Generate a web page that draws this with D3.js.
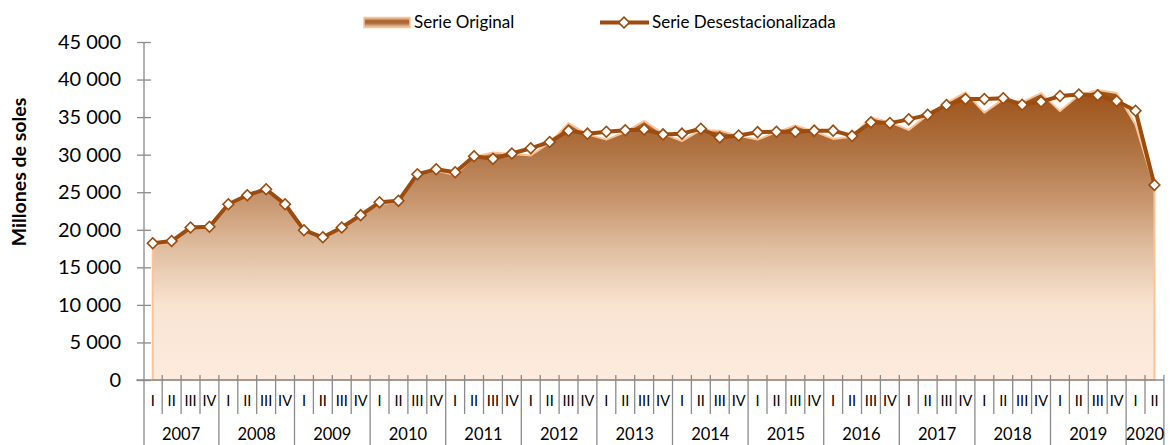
<!DOCTYPE html>
<html>
<head>
<meta charset="utf-8">
<script src="https://cdn.jsdelivr.net/npm/d3@7/dist/d3.min.js"></script>
<style>
  body { margin: 0; background: #fff; }
  svg { display: block; font-family: Lato, 'Open Sans', sans-serif; }
</style>
</head>
<body>
<div id="chart"></div>
<script>
// Tick labels
const years = ['2007', '2008', '2009', '2010', '2011', '2012', '2013', '2014', '2015', '2016', '2017', '2018', '2019', '2020'];
const quarterLabels = ['I', 'II', 'III', 'IV'];

// Serie Original (area), millones de soles
const serieOriginal = [
  17900, 18300, 20200, 20300, 23200, 24500, 25300, 23400,
  19800, 19000, 20200, 21900, 23400, 23700, 27300, 27900,
  27300, 29700, 30300, 30100, 29900, 31600, 34200, 32700,
  32000, 33000, 34500, 32800, 31800, 33300, 33200, 32500,
  32000, 33000, 33900, 33100, 32100, 32400, 35000, 34300,
  33300, 35300, 36900, 38300, 35600, 37400, 37000, 38200,
  35800, 37900, 38600, 38200, 34000, 25700
];

// Serie Desestacionalizada (line with markers)
const serieDesest = [
  18200, 18500, 20300, 20400, 23400, 24600, 25400, 23400,
  19950, 19000, 20300, 21950, 23650, 23850, 27400, 28050,
  27650, 29800, 29450, 30150, 30850, 31700, 33200, 32800,
  33050, 33250, 33350, 32700, 32800, 33450, 32300, 32550,
  33000, 33050, 33050, 33200, 33200, 32500, 34300, 34200,
  34700, 35300, 36600, 37400, 37400, 37500, 36650, 37050,
  37800, 38000, 37900, 37150, 35850, 25950
];

// Build quarter categories
const categories = [];
years.forEach(yr => quarterLabels.forEach(q => categories.push({ year: yr, q: q })));
categories.length = serieDesest.length;

const svgWidth = 1175, svgHeight = 445;
const plot = { left: 143.3, right: 1163.9, top: 42, bottom: 380 };

const svg = d3.select('#chart').append('svg')
  .attr('width', svgWidth)
  .attr('height', svgHeight);

const defs = svg.append('defs');

// Vertical gradient for area
const grad = defs.append('linearGradient')
  .attr('id', 'areaGrad')
  .attr('gradientUnits', 'userSpaceOnUse')
  .attr('x1', 0).attr('x2', 0)
  .attr('y1', plot.top).attr('y2', plot.bottom);
[
  [0, '#93440b'], [0.15, '#9e5219'], [0.33, '#b07545'], [0.47, '#c8966e'],
  [0.62, '#e1c0a3'], [0.78, '#f9e4d2'], [1, '#fcebde']
].forEach(s => grad.append('stop').attr('offset', s[0]).attr('stop-color', s[1]));

const legGrad = defs.append('linearGradient')
  .attr('id', 'legGrad').attr('x1', 0).attr('x2', 0).attr('y1', 0).attr('y2', 1);
[[0, '#f3cfae'], [0.35, '#a85f2a'], [0.6, '#b47244'], [1, '#f1d2b6']]
  .forEach(s => legGrad.append('stop').attr('offset', s[0]).attr('stop-color', s[1]));

// Scales
const x = d3.scaleBand()
  .domain(d3.range(categories.length))
  .range([plot.left, plot.right])
  .padding(0);
const cx = i => x(i) + x.bandwidth() / 2;

const y = d3.scaleLinear()
  .domain([0, 45000])
  .range([plot.bottom, plot.top]);

const fmt = d3.formatLocale({ decimal: ',', thousands: ' ', grouping: [3], currency: ['', ''] }).format(',');

const axisColor = '#8a8a8a';

// Area (Serie Original)
const area = d3.area()
  .x((d, i) => cx(i))
  .y0(y(0))
  .y1(d => y(d));

svg.append('path')
  .datum(serieOriginal)
  .attr('d', area)
  .attr('fill', 'url(#areaGrad)')
  .attr('stroke', '#fbc396')
  .attr('stroke-width', 2)
  .attr('stroke-linejoin', 'round');

// Y axis
const yAxis = svg.append('g')
  .attr('transform', `translate(${plot.left + 0.7}, 0)`)
  .call(d3.axisLeft(y).tickValues(d3.range(0, 45001, 5000)).tickFormat(fmt).tickSize(7).tickPadding(16));
yAxis.select('.domain').remove();
yAxis.selectAll('.tick line').attr('x1', -7).attr('x2', 7).attr('stroke', axisColor).attr('stroke-width', 1.3);
yAxis.selectAll('.tick text')
  .style('font-size', '20px')
  .style('font-family', 'Lato, sans-serif')
  .attr('fill', '#000');

// Y axis line (runs down through category labels)
svg.append('line')
  .attr('x1', plot.left + 0.7).attr('x2', plot.left + 0.7)
  .attr('y1', plot.top).attr('y2', svgHeight)
  .attr('stroke', axisColor).attr('stroke-width', 1.3);

// X axis line
svg.append('line')
  .attr('x1', plot.left - 7).attr('x2', plot.right)
  .attr('y1', plot.bottom).attr('y2', plot.bottom)
  .attr('stroke', axisColor).attr('stroke-width', 1.3);

// Quarter labels via band axis
const xAxis = svg.append('g')
  .attr('transform', `translate(0, ${plot.bottom})`)
  .call(d3.axisBottom(x).tickFormat(i => categories[i].q).tickSize(0).tickPadding(16));
xAxis.select('.domain').remove();
xAxis.selectAll('.tick text')
  .style('font-size', '14.5px')
  .style('font-family', 'Lato, sans-serif')
  .attr('fill', '#000');

// Quarter boundary ticks
const bounds = d3.range(1, categories.length + 1);
svg.append('g').selectAll('line')
  .data(bounds)
  .enter()
  .append('line')
  .attr('x1', i => x(i - 1) + x.bandwidth())
  .attr('x2', i => x(i - 1) + x.bandwidth())
  .attr('y1', plot.bottom - 5)
  .attr('y2', i => (i % 4 === 0 || i === categories.length) ? svgHeight : plot.bottom + 34)
  .attr('stroke', axisColor)
  .attr('stroke-width', 1.3);

// Year labels
svg.append('g').selectAll('text')
  .data(years)
  .enter()
  .append('text')
  .attr('x', (d, k) => {
    const first = k * 4;
    const last = Math.min(first + 3, categories.length - 1);
    return (x(first) + x(last) + x.bandwidth()) / 2;
  })
  .attr('y', 440)
  .attr('text-anchor', 'middle')
  .style('font-size', '16.5px')
  .text(d => d);

// Line (Serie Desestacionalizada)
const line = d3.line()
  .x((d, i) => cx(i))
  .y(d => y(d));

const lineColor = '#9c4c0e';

svg.append('path')
  .datum(serieDesest)
  .attr('d', line)
  .attr('fill', 'none')
  .attr('stroke', lineColor)
  .attr('stroke-width', 4)
  .attr('stroke-linejoin', 'round');

// Diamond markers
const diamond = d3.symbol().type(d3.symbolSquare).size(58);
svg.append('g').selectAll('path')
  .data(serieDesest)
  .enter()
  .append('path')
  .attr('d', diamond)
  .attr('transform', (d, i) => `translate(${cx(i)}, ${y(d)}) rotate(45)`)
  .attr('fill', '#fff')
  .attr('stroke', lineColor)
  .attr('stroke-width', 1.6);

// Y axis title
svg.append('text')
  .attr('transform', 'translate(26, 172) rotate(-90)')
  .attr('text-anchor', 'middle')
  .style('font-size', '19.5px')
  .style('font-weight', 'bold')
  .text('Millones de soles');

// Legend
const legend = svg.append('g');
legend.append('rect')
  .attr('x', 364).attr('y', 17.5)
  .attr('width', 46).attr('height', 10)
  .attr('fill', 'url(#legGrad)')
  .attr('stroke', '#fbc396')
  .attr('stroke-width', 1.5);
legend.append('text')
  .attr('x', 414).attr('y', 28)
  .style('font-size', '17px')
  .text('Serie Original');

legend.append('line')
  .attr('x1', 600).attr('x2', 649)
  .attr('y1', 22.5).attr('y2', 22.5)
  .attr('stroke', lineColor)
  .attr('stroke-width', 4);
legend.append('path')
  .attr('d', diamond)
  .attr('transform', 'translate(624, 22.5) rotate(45)')
  .attr('fill', '#fff')
  .attr('stroke', lineColor)
  .attr('stroke-width', 1.6);
legend.append('text')
  .attr('x', 652).attr('y', 28)
  .style('font-size', '17px')
  .text('Serie Desestacionalizada');
</script>
</body>
</html>
